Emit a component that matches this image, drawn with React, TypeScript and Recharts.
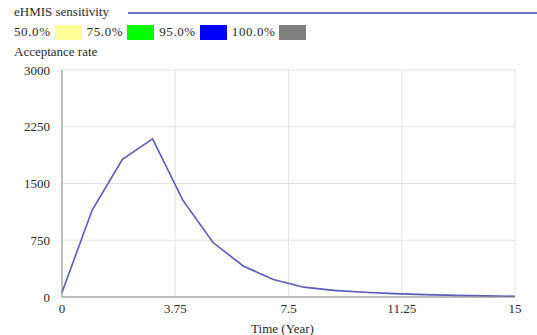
import { LineChart, Line, XAxis, YAxis, CartesianGrid } from 'recharts';

const years = [0, 1, 2, 3, 4, 5, 6, 7, 8, 9, 10, 11, 12, 13, 14, 15];
const acceptance = [60, 1150, 1820, 2090, 1280, 720, 410, 230, 130, 88, 62, 44, 31, 22, 15, 10];
const xTicks = [0, 3.75, 7.5, 11.25, 15];
const yTicks = [0, 750, 1500, 2250, 3000];
const sensitivityLabels = ['50.0%', '75.0%', '95.0%', '100.0%'];
const sensitivityColors = ['#ffff99', '#00ff00', '#0000ff', '#808080'];

const data = years.map((t, i) => ({ t, rate: acceptance[i] }));

const font = '"Liberation Serif", serif';
const textColor = '#2a2a2a';

export default function App() {
  return (
    <div style={{ position: 'absolute', left: 0, top: 0, width: 537, height: 335, background: '#fff', fontFamily: font, color: textColor }}>
      <div style={{ position: 'absolute', left: 14, top: 4, fontSize: 13 }}>eHMIS sensitivity</div>
      <div style={{ position: 'absolute', left: 128, top: 12, width: 409, height: 1.5, background: '#7070c4' }} />
      <div style={{ position: 'absolute', left: 14, top: 24, display: 'flex', alignItems: 'center', fontSize: 13 }}>
        {sensitivityLabels.map((lbl, i) => (
          <div key={lbl} style={{ display: 'flex', alignItems: 'center', marginRight: 5 }}>
            <span style={{ letterSpacing: 0.6 }}>{lbl}</span>
            <span style={{ display: 'inline-block', width: 27, height: 15, marginLeft: 4, background: sensitivityColors[i] }} />
          </div>
        ))}
      </div>
      <div style={{ position: 'absolute', left: 14, top: 44, fontSize: 13 }}>Acceptance rate</div>
      <LineChart width={537} height={335} data={data} margin={{ top: 70, right: 22, bottom: 0, left: 0 }}>
        <CartesianGrid stroke="#e2e2e2" strokeWidth={1} />
        <XAxis
          dataKey="t"
          type="number"
          domain={[0, 15]}
          ticks={xTicks}
          height={38}
          tickSize={0}
          tickMargin={7}
          stroke="#8a8a8a"
          tick={{ fill: textColor, fontSize: 13, fontFamily: font }}
          label={{ value: 'Time (Year)', position: 'insideBottom', offset: 2, dx: -6, fill: textColor, fontSize: 13, fontFamily: font }}
        />
        <YAxis
          type="number"
          domain={[0, 3000]}
          ticks={yTicks}
          width={62}
          tickSize={0}
          tickMargin={12}
          stroke="#8a8a8a"
          tick={{ fill: textColor, fontSize: 13, fontFamily: font }}
        />
        <XAxis xAxisId="top" orientation="top" type="number" domain={[0, 15]} height={0} tick={false} stroke="#b0b0b0" />
        <YAxis yAxisId="right" orientation="right" type="number" domain={[0, 3000]} width={0} tick={false} stroke="#b0b0b0" />
        <Line type="linear" dataKey="rate" stroke="#5a5ab8" strokeWidth={1.6} dot={false} isAnimationActive={false} />
      </LineChart>
    </div>
  );
}
